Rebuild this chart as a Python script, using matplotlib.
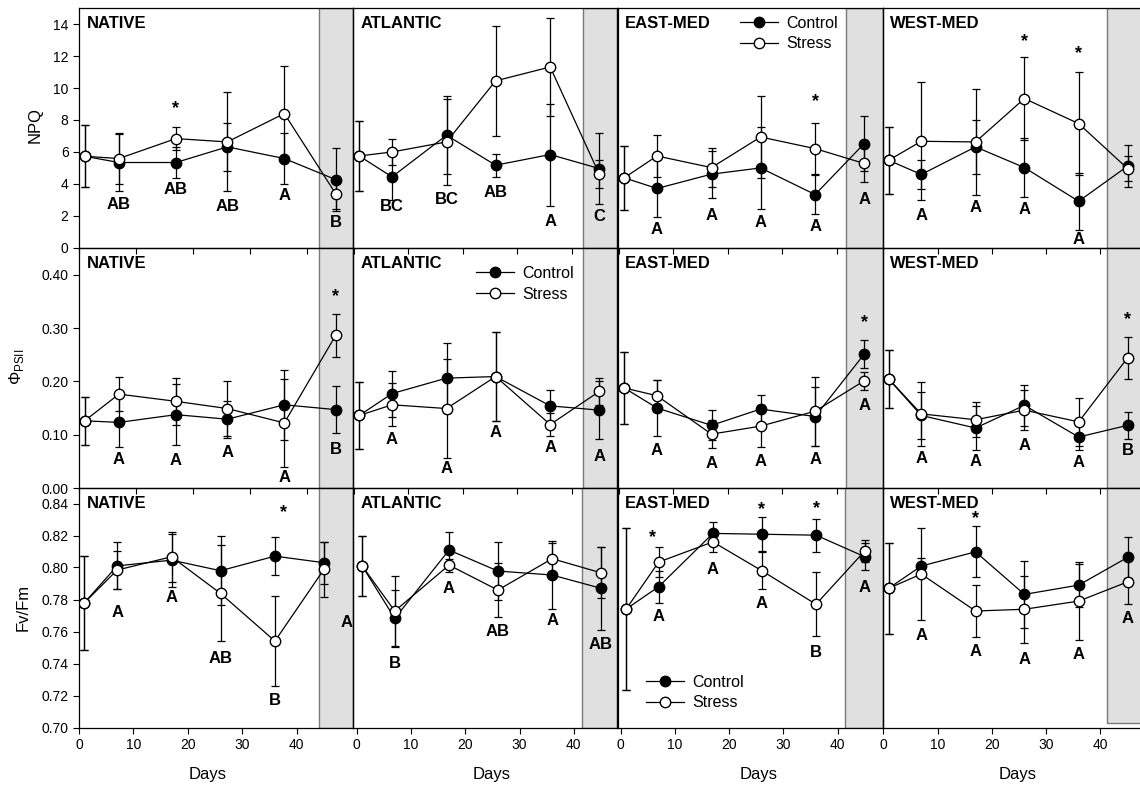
import matplotlib
matplotlib.use("Agg")
import matplotlib.pyplot as plt
from matplotlib.lines import Line2D

plt.rcParams["font.family"] = ["Liberation Sans", "DejaVu Sans"]
plt.rcParams["mathtext.fontset"] = "custom"
plt.rcParams["mathtext.rm"] = "Liberation Sans"

sites = ["NATIVE", "ATLANTIC", "EAST-MED", "WEST-MED"]
days = [1, 7, 17, 26, 36, 45]

# ---- NPQ ----
npq_ctrl = {
    "NATIVE":   [5.72, 5.33, 5.33, 6.31, 5.58, 4.26],
    "ATLANTIC": [5.74, 4.43, 7.04, 5.16, 5.83, 4.95],
    "EAST-MED": [4.37, 3.70, 4.60, 4.99, 3.32, 6.52],
    "WEST-MED": [5.47, 4.58, 6.31, 5.01, 2.90, 5.10],
}
npq_ctrl_se = {
    "NATIVE":   [1.95, 1.78, 0.95, 1.5, 1.6, 2.0],
    "ATLANTIC": [2.2, 1.46, 2.45, 0.71, 3.2, 2.2],
    "EAST-MED": [2.0, 1.78, 1.47, 2.55, 1.2, 1.73],
    "WEST-MED": [2.1, 0.9, 1.7, 1.85, 1.8, 1.3],
}
npq_stress = {
    "NATIVE":   [5.72, 5.58, 6.83, 6.62, 8.40, 3.38],
    "ATLANTIC": [5.74, 5.99, 6.62, 10.45, 11.32, 4.60],
    "EAST-MED": [4.37, 5.74, 5.01, 6.93, 6.20, 5.27],
    "WEST-MED": [5.47, 6.66, 6.62, 9.34, 7.77, 4.95],
}
npq_stress_se = {
    "NATIVE":   [1.95, 1.6, 0.7, 3.1, 3.0, 0.95],
    "ATLANTIC": [2.2, 0.8, 2.72, 3.46, 3.1, 0.9],
    "EAST-MED": [2.0, 1.3, 1.2, 2.55, 1.6, 1.15],
    "WEST-MED": [2.1, 3.7, 3.3, 2.6, 3.24, 0.8],
}

# ---- PhiPSII ----
phi_ctrl = {
    "NATIVE":   [0.126, 0.123, 0.1375, 0.129, 0.156, 0.147],
    "ATLANTIC": [0.136, 0.177, 0.206, 0.209, 0.154, 0.146],
    "EAST-MED": [0.1876, 0.150, 0.1175, 0.148, 0.134, 0.251],
    "WEST-MED": [0.2045, 0.136, 0.1125, 0.155, 0.0956, 0.1175],
}
phi_ctrl_se = {
    "NATIVE":   [0.045, 0.047, 0.057, 0.035, 0.066, 0.044],
    "ATLANTIC": [0.063, 0.043, 0.065, 0.083, 0.03, 0.054],
    "EAST-MED": [0.067, 0.053, 0.028, 0.026, 0.056, 0.026],
    "WEST-MED": [0.054, 0.044, 0.042, 0.039, 0.025, 0.025],
}
phi_stress = {
    "NATIVE":   [0.126, 0.176, 0.1625, 0.149, 0.122, 0.286],
    "ATLANTIC": [0.136, 0.156, 0.149, 0.209, 0.119, 0.181],
    "EAST-MED": [0.1876, 0.173, 0.101, 0.116, 0.144, 0.201],
    "WEST-MED": [0.2045, 0.139, 0.128, 0.146, 0.124, 0.244],
}
phi_stress_se = {
    "NATIVE":   [0.045, 0.032, 0.044, 0.052, 0.082, 0.041],
    "ATLANTIC": [0.063, 0.04, 0.093, 0.083, 0.022, 0.025],
    "EAST-MED": [0.067, 0.03, 0.026, 0.039, 0.065, 0.017],
    "WEST-MED": [0.054, 0.06, 0.033, 0.038, 0.045, 0.039],
}

# ---- Fv/Fm ----
fvfm_ctrl = {
    "NATIVE":   [0.778, 0.801, 0.8046, 0.798, 0.8071, 0.803],
    "ATLANTIC": [0.8009, 0.7682, 0.8109, 0.7978, 0.7953, 0.787],
    "EAST-MED": [0.774, 0.788, 0.8213, 0.8208, 0.8202, 0.8067],
    "WEST-MED": [0.787, 0.8009, 0.8098, 0.7832, 0.789, 0.8063],
}
fvfm_ctrl_se = {
    "NATIVE":   [0.0295, 0.0147, 0.0165, 0.0215, 0.012, 0.013],
    "ATLANTIC": [0.019, 0.018, 0.0115, 0.018, 0.021, 0.026],
    "EAST-MED": [0.0505, 0.01, 0.007, 0.0105, 0.0104, 0.0085],
    "WEST-MED": [0.0285, 0.005, 0.016, 0.021, 0.0135, 0.013],
}
fvfm_stress = {
    "NATIVE":   [0.778, 0.7984, 0.8067, 0.7838, 0.754, 0.7988],
    "ATLANTIC": [0.8009, 0.7728, 0.8015, 0.7859, 0.8055, 0.7967],
    "EAST-MED": [0.774, 0.8034, 0.816, 0.798, 0.777, 0.8104],
    "WEST-MED": [0.787, 0.7959, 0.7728, 0.7739, 0.779, 0.791],
}
fvfm_stress_se = {
    "NATIVE":   [0.0295, 0.012, 0.0155, 0.030, 0.028, 0.017],
    "ATLANTIC": [0.019, 0.022, 0.004, 0.017, 0.01, 0.016],
    "EAST-MED": [0.0505, 0.0095, 0.006, 0.0115, 0.02, 0.007],
    "WEST-MED": [0.0285, 0.0286, 0.016, 0.021, 0.0245, 0.014],
}

# significance letters (days 7..45) and asterisks
npq_letters = {
    "NATIVE":   ["AB", "AB", "AB", "A", "B"],
    "ATLANTIC": ["BC", "BC", "AB", "A", "C"],
    "EAST-MED": ["A", "A", "A", "A", "A"],
    "WEST-MED": ["A", "A", "A", "A", ""],
}
phi_letters = {
    "NATIVE":   ["A", "A", "A", "A", "B"],
    "ATLANTIC": ["A", "A", "A", "A", "A"],
    "EAST-MED": ["A", "A", "A", "A", "A"],
    "WEST-MED": ["A", "A", "A", "A", "B"],
}
fvfm_letters = {
    "NATIVE":   ["A", "A", "AB", "B", "A"],
    "ATLANTIC": ["B", "A", "AB", "A", "AB"],
    "EAST-MED": ["A", "A", "A", "B", "A"],
    "WEST-MED": ["A", "A", "A", "A", "A"],
}
npq_stars = {"NATIVE": [17], "ATLANTIC": [], "EAST-MED": [36], "WEST-MED": [26, 36]}
phi_stars = {"NATIVE": [45], "ATLANTIC": [], "EAST-MED": [45], "WEST-MED": [45]}
fvfm_stars = {"NATIVE": [37.5], "ATLANTIC": [], "EAST-MED": [5.9, 26, 36], "WEST-MED": [17]}

# ---- layout (where the annotations sit) ----
npq_letter_y = {
    "NATIVE":   [2.72, 3.66, 2.55, 3.28, 1.54],
    "ATLANTIC": [2.55, 3.03, 3.45, 1.6, 1.96],
    "EAST-MED": [1.15, 1.98, 1.54, 1.34, 3.03],
    "WEST-MED": [1.98, 2.48, 2.4, 0.5, 0],
}
phi_letter_y = {
    "NATIVE":   [0.053, 0.051, 0.066, 0.019, 0.073],
    "ATLANTIC": [0.091, 0.036, 0.104, 0.075, 0.059],
    "EAST-MED": [0.071, 0.046, 0.05, 0.054, 0.155],
    "WEST-MED": [0.055, 0.05, 0.079, 0.048, 0.071],
}
fvfm_letter_y = {
    "NATIVE":   [0.7717, 0.7813, 0.7433, 0.7167, 0.7655],
    "ATLANTIC": [0.7402, 0.787, 0.7599, 0.7667, 0.7516],
    "EAST-MED": [0.7692, 0.799, 0.7772, 0.747, 0.7876],
    "WEST-MED": [0.7572, 0.7474, 0.7422, 0.7454, 0.7682],
}
npq_star_y = {"NATIVE": [8.73], "ATLANTIC": [], "EAST-MED": [9.13], "WEST-MED": [12.89, 12.16]}
phi_star_y = {"NATIVE": [0.358], "ATLANTIC": [], "EAST-MED": [0.31], "WEST-MED": [0.316]}
fvfm_star_y = {"NATIVE": [0.8341], "ATLANTIC": [], "EAST-MED": [0.8188, 0.8362, 0.8369],
               "WEST-MED": [0.8306]}

rows = [
    (npq_ctrl, npq_ctrl_se, npq_stress, npq_stress_se, npq_letters, npq_letter_y,
     npq_stars, npq_star_y),
    (phi_ctrl, phi_ctrl_se, phi_stress, phi_stress_se, phi_letters, phi_letter_y,
     phi_stars, phi_star_y),
    (fvfm_ctrl, fvfm_ctrl_se, fvfm_stress, fvfm_stress_se, fvfm_letters, fvfm_letter_y,
     fvfm_stars, fvfm_star_y),
]
ylims = [(0, 15.05), (0, 0.45), (0.70, 0.85)]
yticks = [list(range(0, 15, 2)), [0, 0.1, 0.2, 0.3, 0.4],
          [0.70, 0.72, 0.74, 0.76, 0.78, 0.80, 0.82, 0.84]]
yfmt = ["{:.0f}", "{:.2f}", "{:.2f}"]

W, H = 1140, 785
row_top = [7.5, 248, 487.5]
row_h = 240
col_l = [79, 353, 617.7, 882.7]
col_r = [353.3, 616.7, 883.3, 1146]
days_label_px = [208, 491.7, 758.3, 1017.3]
xlims = [[(0, 48.1), (-0.15, 48.2), (-0.2, 48.5), (-0.1, 48.4)],
         [(0, 48.1), (-0.15, 48.2), (-0.2, 48.5), (-0.1, 48.4)],
         [(0, 50.4), (-0.7, 47.9), (-0.55, 48.4), (-0.1, 48.4)]]
shade_x = [[42.1, 42.0, 41.6, 41.3],
           [42.1, 42.0, 41.6, 41.3],
           [44.1, 41.5, 41.4, 41.3]]
legend_spot = {(0, 2): (0.46, 0.965), (1, 1): (0.465, 0.925), (2, 2): (0.105, 0.22)}

fig = plt.figure(figsize=(W / 100, H / 100), dpi=100)

for r in range(3):
    ctrl, ctrl_se, stress, stress_se, letters, letter_y, stars, star_y = rows[r]
    for c, site in enumerate(sites):
        ax = fig.add_axes([col_l[c] / W, 1 - (row_top[r] + row_h) / H,
                           (col_r[c] - col_l[c]) / W, row_h / H])
        ax.patch.set_visible(False)
        ax.set_xlim(*xlims[r][c])
        ax.set_ylim(*ylims[r])

        ymin_frac = 0.02 if (r == 2 and c == 3) else 0
        ax.axvspan(shade_x[r][c], xlims[r][c][1], ymin=ymin_frac, ymax=1,
                   facecolor="#e0e0e0", edgecolor="#7a7a7a", lw=1, zorder=0)

        ax.errorbar(days, ctrl[site], yerr=ctrl_se[site], fmt="-o", color="k",
                    mfc="k", mec="k", ms=7.5, lw=0.9, elinewidth=0.9,
                    capsize=3, capthick=0.9, zorder=3)
        ax.errorbar(days, stress[site], yerr=stress_se[site], fmt="-o", color="k",
                    mfc="white", mec="k", ms=7.5, lw=0.9, elinewidth=0.9,
                    capsize=3, capthick=0.9, zorder=4)

        for i, lab in enumerate(letters[site]):
            if not lab:
                continue
            x = days[i + 1]
            if r == 2 and c == 0 and i == 4:
                x = 49.2
            ax.text(x, letter_y[site][i], lab, ha="center", va="center",
                    fontsize=12, fontweight="bold", zorder=5)
        for sx, sy in zip(stars[site], star_y[site]):
            ax.text(sx, sy, "*", ha="center", va="center", fontsize=13,
                    fontweight="bold", zorder=5)

        ax.annotate(site, xy=(0, 1), xycoords="axes fraction", xytext=(5.5, -6),
                    textcoords="offset points", ha="left", va="top",
                    fontsize=12, fontweight="bold")

        ax.set_xticks([0, 10, 20, 30, 40])
        ax.tick_params(axis="x", direction="out", length=4, width=0.8,
                       labelsize=10, labelbottom=(r == 2))
        if c == 0:
            ax.set_yticks(yticks[r])
            ax.set_yticklabels([yfmt[r].format(v) for v in yticks[r]])
            ax.tick_params(axis="y", direction="out", length=4, width=0.8, labelsize=10)
        else:
            ax.tick_params(axis="y", left=False, labelleft=False)
        for sp in ax.spines.values():
            sp.set_linewidth(0.9)
        if c == 3:
            ax.spines["right"].set_visible(False)
        if r == 2:
            ax.set_xlabel("Days", fontsize=12)
            ax.xaxis.set_label_coords((days_label_px[c] - col_l[c]) / (col_r[c] - col_l[c]),
                                      -(775 - 727.5) / row_h + 0.0, transform=ax.transAxes)
            ax.xaxis.label.set_va("center")

        if (r, c) in legend_spot:
            handles = [
                Line2D([], [], color="k", lw=0.9, marker="o", mfc="k", mec="k", ms=7.5),
                Line2D([], [], color="k", lw=0.9, marker="o", mfc="white", mec="k", ms=7.5),
            ]
            ax.legend(handles, ["Control", "Stress"], loc="upper left",
                      bbox_to_anchor=legend_spot[(r, c)], frameon=False,
                      fontsize=11.5, handlelength=2.4, handletextpad=0.5,
                      labelspacing=0.35, borderpad=0, borderaxespad=0)

fig.text(35 / W, 1 - 125 / H, "NPQ", rotation=90, ha="center", va="center", fontsize=12)
fig.text(16 / W, 1 - 367 / H, "Φ$_{\\mathrm{PSII}}$", rotation=90, ha="center",
         va="center", fontsize=12)
fig.text(23 / W, 1 - 607 / H, "Fv/Fm", rotation=90, ha="center", va="center", fontsize=12)

fig.savefig("out.png", dpi=100)
